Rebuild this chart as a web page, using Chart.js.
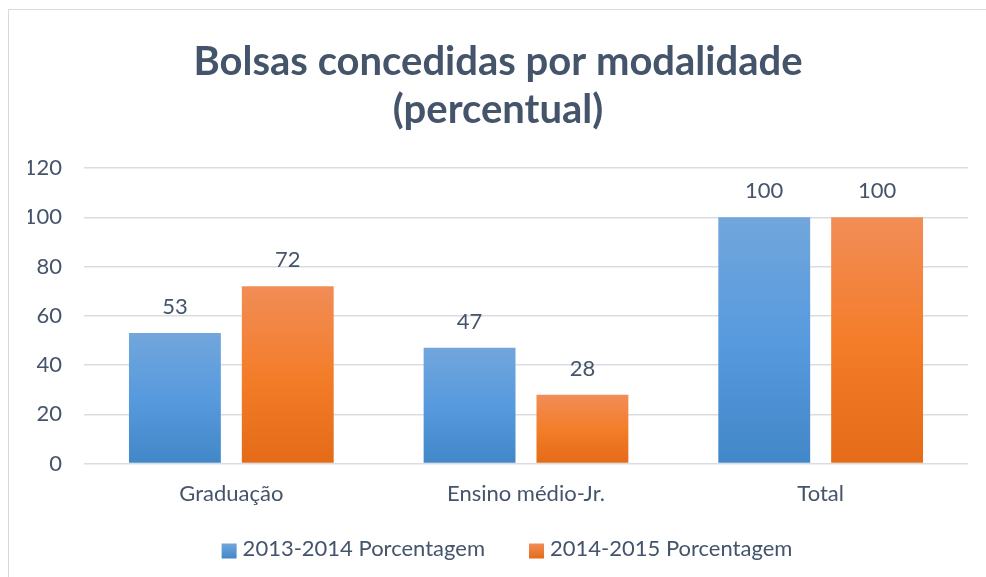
<!DOCTYPE html>
<html>
<head>
<meta charset="utf-8">
<script src="https://cdn.jsdelivr.net/npm/chart.js@4"></script>
<style>
  html, body { margin: 0; padding: 0; background: #fff; }
  #wrap { position: relative; width: 986px; height: 577px; overflow: hidden; }
  #frame { position: absolute; left: 8px; top: 9px; width: 1200px; height: 800px;
           border-left: 1px solid #d9d9d9; border-top: 1px solid #d9d9d9; }
  canvas { position: absolute; left: 0; top: 0; }
</style>
</head>
<body>
<div id="wrap">
  <div id="frame"></div>
  <canvas id="chart" width="986" height="577"></canvas>
</div>
<script>
/* ── Data ── */
const CATEGORIES = ['Graduação', 'Ensino médio-Jr.', 'Total'];
const SERIES_2013 = [53, 47, 100];
const SERIES_2014 = [72, 28, 100];
const SERIES_NAMES = ['2013-2014 Porcentagem', '2014-2015 Porcentagem'];
const Y_TICKS = [0, 20, 40, 60, 80, 100, 120];

const TEXT = '#44546a';
const FONT = 'Lato, "Open Sans", sans-serif';

/* ── Gradient fills (lighter at the top of each bar) ── */
const BLUE   = ['#72a6dc', '#579ade', '#4287c8'];
const ORANGE = ['#f18d57', '#f47d2a', '#e46b18'];

function barGradient(stops) {
  return ctx => {
    const { chart } = ctx;
    const y = chart.scales && chart.scales.y;
    if (!chart.chartArea || !y || ctx.parsed === undefined) return stops[1];
    const top = y.getPixelForValue(ctx.parsed.y);
    const bottom = y.getPixelForValue(0);
    const g = chart.ctx.createLinearGradient(0, top, 0, bottom);
    g.addColorStop(0, stops[0]);
    g.addColorStop(0.5, stops[1]);
    g.addColorStop(1, stops[2]);
    return g;
  };
}

/* ── Value labels above bars ── */
const valueLabels = {
  id: 'valueLabels',
  afterDatasetsDraw(chart) {
    const c = chart.ctx;
    c.save();
    c.font = '22px ' + FONT;
    c.fillStyle = TEXT;
    c.textAlign = 'center';
    c.textBaseline = 'middle';
    chart.data.datasets.forEach((ds, i) => {
      chart.getDatasetMeta(i).data.forEach((bar, j) => {
        c.fillText(ds.data[j], bar.x, bar.y - 26);
      });
    });
    c.restore();
  }
};

/* ── Legend along the bottom ── */
const LEGEND_STOPS = [BLUE, ORANGE];
const bottomLegend = {
  id: 'bottomLegend',
  afterDraw(chart) {
    const c = chart.ctx;
    const y = 551, box = 15, gapText = 6, gapItem = 44;
    c.save();
    c.font = '22px ' + FONT;
    c.textBaseline = 'middle';
    const items = chart.data.datasets.map((ds, i) => ({
      text: ds.label, stops: LEGEND_STOPS[i], w: box + gapText + c.measureText(ds.label).width,
    }));
    const total = items.reduce((s, it) => s + it.w, 0) + gapItem * (items.length - 1);
    let x = (chart.width - total) / 2 + 14;
    items.forEach(it => {
      const g = c.createLinearGradient(0, y - box / 2, 0, y + box / 2);
      g.addColorStop(0, it.stops[0]);
      g.addColorStop(1, it.stops[2]);
      c.fillStyle = g;
      c.fillRect(x, y - box / 2, box, box);
      c.fillStyle = TEXT;
      c.textAlign = 'left';
      c.fillText(it.text, x + box + gapText, y - 2);
      x += it.w + gapItem;
    });
    c.restore();
  }
};

new Chart(document.getElementById('chart'), {
  type: 'bar',
  data: {
    labels: CATEGORIES,
    datasets: [
      { label: SERIES_NAMES[0], data: SERIES_2013, backgroundColor: barGradient(BLUE) },
      { label: SERIES_NAMES[1], data: SERIES_2014, backgroundColor: barGradient(ORANGE) },
    ],
  },
  options: {
    responsive: false,
    animation: false,
    categoryPercentage: 0.766,
    barPercentage: 0.814,
    layout: { padding: { left: 28, right: 18, top: 18, bottom: 61 } },
    scales: {
      x: {
        grid: { display: false },
        border: { display: false },
        ticks: { color: TEXT, font: { family: FONT, size: 22 }, padding: 9 },
      },
      y: {
        min: 0, max: 120,
        afterBuildTicks: axis => { axis.ticks = Y_TICKS.map(v => ({ value: v })); },
        afterFit: axis => { axis.width = 56; },
        grid: { color: '#d9dde3', lineWidth: 1.5, drawTicks: false },
        border: { display: false },
        ticks: { color: TEXT, font: { family: FONT, size: 22 }, padding: 22 },
      },
    },
    plugins: {
      title: {
        display: true,
        text: ['Bolsas concedidas por modalidade', '(percentual)'],
        color: TEXT,
        font: { family: FONT, size: 40, weight: 'bold', lineHeight: 1.2 },
        padding: { top: 20, bottom: 34 },
      },
      legend: { display: false },
      tooltip: { enabled: false },
    },
  },
  plugins: [valueLabels, bottomLegend],
});
</script>
</body>
</html>
